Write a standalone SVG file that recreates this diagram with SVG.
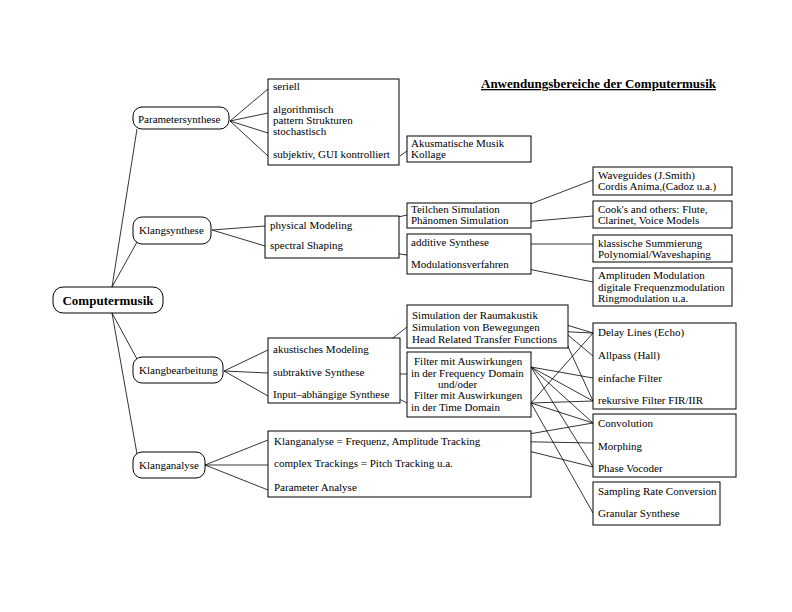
<svg xmlns="http://www.w3.org/2000/svg" width="792" height="612" viewBox="0 0 792 612">
<style>
text{font-family:"Liberation Serif","Times New Roman",serif;font-size:11px;fill:#000}
.b{font-weight:bold;font-size:13px}
.box{fill:#fff;stroke:#000;stroke-width:1}
.c line{stroke:#000;stroke-width:0.8}
</style>
<rect width="792" height="612" fill="#fff"/>
<text id="title" class="b" x="481" y="88" text-decoration="underline">Anwendungsbereiche der Computermusik</text>
<g class="c" id="connectors">
<line x1="112" y1="287" x2="137" y2="129"/>
<line x1="112" y1="287" x2="137" y2="242"/>
<line x1="112" y1="313" x2="137" y2="359"/>
<line x1="112" y1="313" x2="137" y2="454"/>
<line x1="230" y1="121" x2="268" y2="89"/>
<line x1="230" y1="121" x2="268" y2="113"/>
<line x1="230" y1="121" x2="268" y2="133"/>
<line x1="230" y1="121" x2="268" y2="156"/>
<line x1="400" y1="156" x2="407" y2="151"/>
<line x1="212" y1="230" x2="265" y2="226"/>
<line x1="212" y1="230" x2="265" y2="246"/>
<line x1="358" y1="226" x2="407" y2="215"/>
<line x1="357" y1="248" x2="407" y2="255"/>
<line x1="520" y1="208" x2="593" y2="180"/>
<line x1="511" y1="223" x2="593" y2="216"/>
<line x1="498" y1="244" x2="593" y2="244"/>
<line x1="513" y1="266" x2="593" y2="282"/>
<line x1="224" y1="371" x2="268" y2="350"/>
<line x1="224" y1="371" x2="268" y2="373"/>
<line x1="224" y1="371" x2="268" y2="396"/>
<line x1="375" y1="352" x2="407" y2="327"/>
<line x1="373" y1="374" x2="407" y2="374"/>
<line x1="393" y1="396" x2="407" y2="403"/>
<line x1="550" y1="320" x2="593" y2="333"/>
<line x1="550" y1="320" x2="593" y2="356"/>
<line x1="552" y1="331" x2="593" y2="333"/>
<line x1="565" y1="340" x2="593" y2="401"/>
<line x1="531" y1="367" x2="593" y2="378"/>
<line x1="531" y1="367" x2="593" y2="401"/>
<line x1="531" y1="367" x2="593" y2="423"/>
<line x1="531" y1="367" x2="593" y2="467"/>
<line x1="531" y1="403" x2="593" y2="333"/>
<line x1="531" y1="403" x2="593" y2="401"/>
<line x1="531" y1="403" x2="593" y2="423"/>
<line x1="531" y1="403" x2="593" y2="513"/>
<line x1="205" y1="465" x2="268" y2="440"/>
<line x1="205" y1="465" x2="268" y2="465"/>
<line x1="205" y1="465" x2="268" y2="490"/>
<line x1="488" y1="441" x2="593" y2="423"/>
<line x1="488" y1="441" x2="593" y2="443"/>
<line x1="488" y1="441" x2="593" y2="467"/>
</g>
<g id="computermusik"><rect class="box" x="53" y="287" width="110" height="26" rx="10"/><text class="b" x="108" y="305" text-anchor="middle">Computermusik</text></g>
<g id="parametersynthese"><rect class="box" x="133" y="107" width="96" height="22" rx="9"/><text x="138" y="123">Parametersynthese</text></g>
<g id="klangsynthese"><rect class="box" x="133" y="217" width="78" height="27" rx="9"/><text x="139" y="234">Klangsynthese</text></g>
<g id="klangbearbeitung"><rect class="box" x="133" y="357" width="90" height="26" rx="9"/><text x="139" y="374">Klangbearbeitung</text></g>
<g id="klanganalyse"><rect class="box" x="133" y="452" width="72" height="26" rx="9"/><text x="139" y="469">Klanganalyse</text></g>
<g id="param-list"><rect class="box" x="268" y="79" width="131" height="86"/>
<text x="273" y="90">seriell</text><text x="273" y="113">algorithmisch</text><text x="273" y="124">pattern Strukturen</text><text x="273" y="135">stochastisch</text><text x="273" y="158">subjektiv, GUI kontrolliert</text></g>
<g id="akusmatisch"><rect class="box" x="407" y="136" width="124" height="26"/><text x="411" y="147">Akusmatische Musik</text><text x="411" y="158">Kollage</text></g>
<g id="physical"><rect class="box" x="265" y="216" width="134" height="42"/><text x="270" y="229">physical Modeling</text><text x="270" y="249">spectral Shaping</text></g>
<g id="teilchen"><rect class="box" x="407" y="203" width="124" height="25"/><text x="411" y="213">Teilchen Simulation</text><text x="411" y="224">Phänomen Simulation</text></g>
<g id="additive"><rect class="box" x="407" y="234" width="124" height="40"/><text x="411" y="246">additive Synthese</text><text x="411" y="268">Modulationsverfahren</text></g>
<g id="waveguides"><rect class="box" x="593" y="167" width="139" height="28"/><text x="598" y="179">Waveguides (J.Smith)</text><text x="598" y="190">Cordis Anima,(Cadoz u.a.)</text></g>
<g id="cooks"><rect class="box" x="593" y="201" width="139" height="27"/><text x="598" y="213">Cook's and others: Flute,</text><text x="598" y="224">Clarinet, Voice Models</text></g>
<g id="klassische"><rect class="box" x="593" y="235" width="139" height="27"/><text x="598" y="247">klassische Summierung</text><text x="598" y="258">Polynomial/Waveshaping</text></g>
<g id="amplituden"><rect class="box" x="593" y="268" width="139" height="38"/><text x="598" y="279">Amplituden Modulation</text><text x="598" y="291">digitale Frequenzmodulation</text><text x="598" y="302">Ringmodulation u.a.</text></g>
<g id="akustisch"><rect class="box" x="268" y="338" width="132" height="65"/><text x="273" y="353">akustisches Modeling</text><text x="273" y="376">subtraktive Synthese</text><text x="273" y="398">Input–abhängige Synthese</text></g>
<g id="raumakustik"><rect class="box" x="407" y="305" width="161" height="43"/><text x="412" y="319">Simulation der Raumakustik</text><text x="412" y="331">Simulation von Bewegungen</text><text x="412" y="343">Head Related Transfer Functions</text></g>
<g id="filter"><rect class="box" x="407" y="352" width="124" height="65"/><text x="414" y="365">Filter mit Auswirkungen</text><text x="411" y="377">in der Frequency Domain</text><text x="438" y="388">und/oder</text><text x="414" y="399">Filter mit Auswirkungen</text><text x="411" y="411">in der Time Domain</text></g>
<g id="delay"><rect class="box" x="593" y="323" width="143" height="86"/><text x="598" y="336">Delay Lines (Echo)</text><text x="598" y="359">Allpass (Hall)</text><text x="598" y="382">einfache Filter</text><text x="598" y="404">rekursive Filter FIR/IIR</text></g>
<g id="convolution"><rect class="box" x="593" y="414" width="143" height="63"/><text x="598" y="427">Convolution</text><text x="598" y="450">Morphing</text><text x="598" y="472">Phase Vocoder</text></g>
<g id="sampling"><rect class="box" x="593" y="482" width="127" height="43"/><text x="598" y="495">Sampling Rate Conversion</text><text x="598" y="517">Granular Synthese</text></g>
<g id="analyse-list"><rect class="box" x="268" y="431" width="263" height="66"/><text x="274" y="445">Klanganalyse = Frequenz, Amplitude Tracking</text><text x="274" y="467">complex Trackings = Pitch Tracking u.a.</text><text x="274" y="491">Parameter Analyse</text></g>
</svg>
